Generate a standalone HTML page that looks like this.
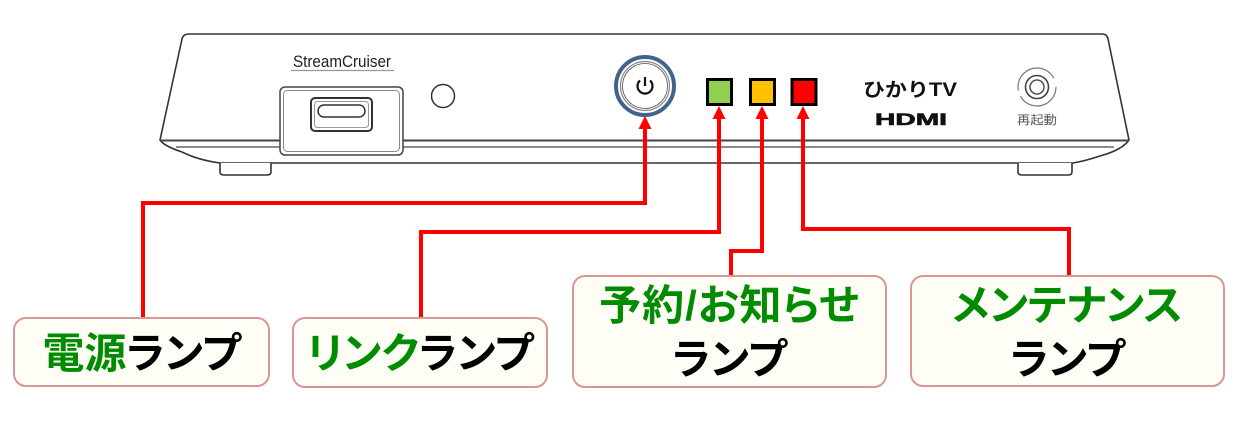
<!DOCTYPE html>
<html><head><meta charset="utf-8">
<style>
html,body{margin:0;padding:0;background:#fff;}
body{width:1246px;height:425px;position:relative;overflow:hidden;}
svg{position:absolute;left:0;top:0;}
.box{position:absolute;box-sizing:border-box;border:2.5px solid #d99694;border-radius:13px;background:#fffef6;
display:flex;flex-direction:column;align-items:center;justify-content:center;padding-top:3px;
font-family:"Liberation Sans","Noto Sans CJK JP",sans-serif;font-weight:bold;font-size:42px;
font-feature-settings:"palt";color:#000;white-space:nowrap;}
.box div{line-height:54px;height:54px;}
.g{color:#008c00;}
</style></head>
<body>
<svg width="1246" height="425" viewBox="0 0 1246 425">
  <!-- device body -->
  <path d="M160,140 L182,39 Q183,34 189,34 L1102,34 Q1107,34 1108,39 L1129,140 Q1122,150 1100,156 Q1085,161 1073,163 L220,163 Q198,160 182,152 Q164,146 160,140 Z" fill="#fff" stroke="#333" stroke-width="1.6"/>
  <line x1="160" y1="140.5" x2="1129" y2="140.5" stroke="#444" stroke-width="2"/>
  <line x1="176" y1="147" x2="1114" y2="147" stroke="#666" stroke-width="1.4"/>
  <!-- feet -->
  <path d="M220,163 L220,172 Q220,175 224,175 L267,175 Q271,175 271,172 L271,163" fill="#fff" stroke="#333" stroke-width="1.6"/>
  <path d="M1018,163 L1018,172 Q1018,175 1022,175 L1068,175 Q1072,175 1072,172 L1072,163" fill="#fff" stroke="#333" stroke-width="1.6"/>
  <!-- StreamCruiser -->
  <text x="293" y="67" font-family="Liberation Sans, sans-serif" font-size="17" fill="#222" textLength="98" lengthAdjust="spacingAndGlyphs">StreamCruiser</text>
  <line x1="291" y1="70.5" x2="394" y2="70.5" stroke="#999" stroke-width="1.2"/>
  <!-- USB -->
  <rect x="280" y="87" width="123" height="68" rx="5" fill="#fff" stroke="#444" stroke-width="1.5"/>
  <rect x="283.5" y="90.5" width="116" height="61" rx="4" fill="none" stroke="#888" stroke-width="1"/>
  <rect x="311" y="98" width="61" height="33" rx="4" fill="#fff" stroke="#333" stroke-width="2"/>
  <rect x="314.5" y="101.5" width="54" height="26" rx="3" fill="none" stroke="#999" stroke-width="1"/>
  <rect x="318" y="105" width="47" height="12" rx="6" fill="#fff" stroke="#333" stroke-width="1.5"/>
  <!-- small circle -->
  <circle cx="443" cy="96" r="11.5" fill="#fff" stroke="#333" stroke-width="1.5"/>
  <!-- power button -->
  <circle cx="645" cy="86" r="29" fill="#fff" stroke="#41648c" stroke-width="4"/>
  <circle cx="645" cy="86" r="24.5" fill="none" stroke="#888" stroke-width="1.2"/>
  <circle cx="645" cy="86" r="22.5" fill="none" stroke="#555" stroke-width="0.8"/>
  <path d="M640,80.5 A7.5,7.5 0 1 0 650,80.5" fill="none" stroke="#111" stroke-width="2.2"/>
  <line x1="645" y1="77" x2="645" y2="86" stroke="#111" stroke-width="2.2"/>
  <!-- lamps -->
  <rect x="707.5" y="79.5" width="24" height="25" fill="#92d050" stroke="#000" stroke-width="3"/>
  <rect x="750.5" y="79.5" width="24" height="25" fill="#ffc000" stroke="#000" stroke-width="3"/>
  <rect x="792" y="79.5" width="24" height="25" fill="#ff0000" stroke="#000" stroke-width="3"/>
  <!-- hikari TV / HDMI -->
  <text x="863" y="96" font-family="Liberation Sans, Noto Sans CJK JP, sans-serif" font-weight="bold" font-size="19" fill="#111" textLength="94" lengthAdjust="spacingAndGlyphs">ひかりTV</text>
  <text x="875" y="125" font-family="Liberation Sans, sans-serif" font-weight="bold" font-size="16.5" fill="#111" stroke="#111" stroke-width="0.6" textLength="72" lengthAdjust="spacingAndGlyphs">HDMI</text>
  <!-- restart -->
  <circle cx="1037" cy="87" r="19" fill="none" stroke="#777" stroke-width="1.2" stroke-dasharray="50 6 54 9"/>
  <circle cx="1037" cy="87" r="11.5" fill="none" stroke="#444" stroke-width="1.6"/>
  <circle cx="1037" cy="87" r="7" fill="none" stroke="#555" stroke-width="1.6"/>
  <text x="1017" y="124" font-family="Liberation Sans, Noto Sans CJK JP, sans-serif" font-size="12" fill="#555" textLength="40" lengthAdjust="spacingAndGlyphs">再起動</text>
  <!-- connectors -->
  <g fill="none" stroke="#ff0000" stroke-width="4" stroke-linejoin="miter">
    <polyline points="143,318 143,203 645,203 645,127"/>
    <polyline points="421,318 421,232 719,232 719,117"/>
    <polyline points="731,276 731,251 762,251 762,117"/>
    <polyline points="1069,276 1069,229 803,229 803,117"/>
  </g>
  <g fill="#ff0000">
    <polygon points="645,116 638.5,129 651.5,129"/>
    <polygon points="719,106 712.5,119 725.5,119"/>
    <polygon points="762,106 755.5,119 768.5,119"/>
    <polygon points="803,106 796.5,119 809.5,119"/>
  </g>
</svg>

<div class="box" style="left:13px;top:317px;width:257px;height:70px;"><div><span class="g">電源</span>ランプ</div></div>
<div class="box" style="left:292px;top:317px;width:256px;height:71px;"><div><span class="g">リンク</span>ランプ</div></div>
<div class="box" style="left:572px;top:275px;width:315px;height:113px;"><div class="g" style="letter-spacing:1px;">予約/お知らせ</div><div>ランプ</div></div>
<div class="box" style="left:910px;top:275px;width:315px;height:112px;"><div class="g">メンテナンス</div><div>ランプ</div></div>
</body></html>
